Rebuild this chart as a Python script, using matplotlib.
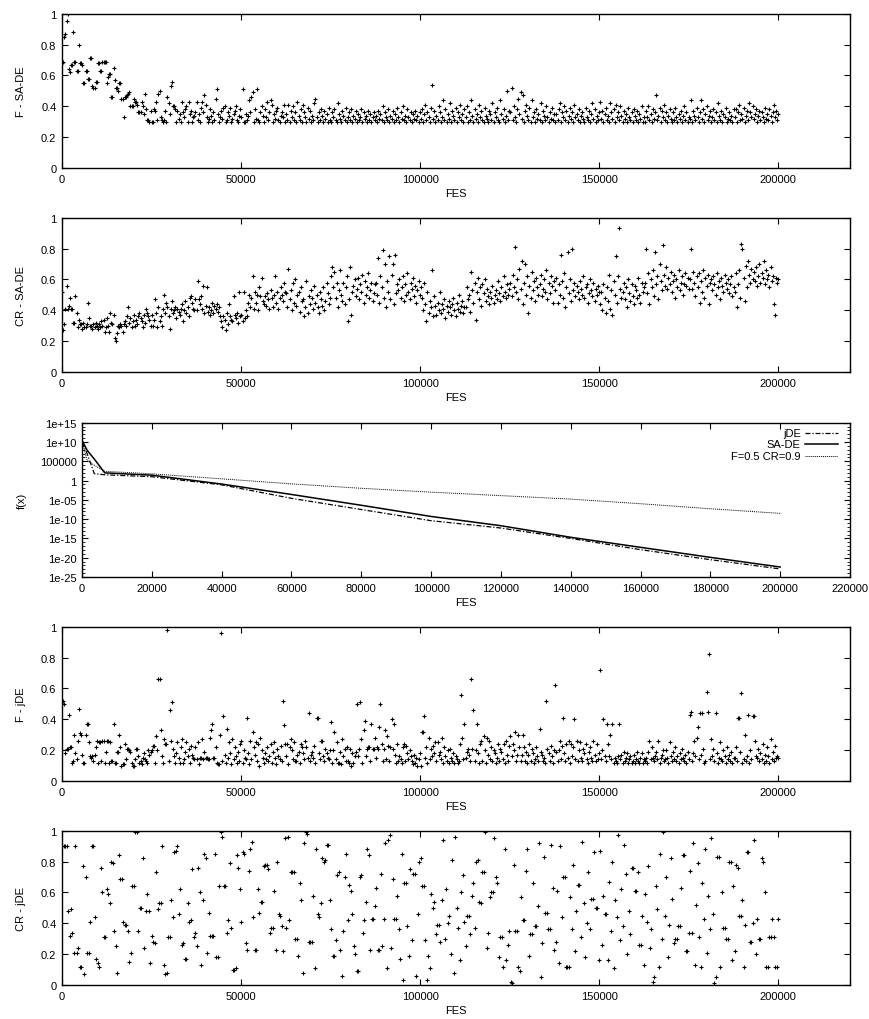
import numpy as np
import matplotlib
matplotlib.use('Agg')
import matplotlib.pyplot as plt
from matplotlib.ticker import NullFormatter

plt.rcParams['font.family'] = ['Liberation Sans', 'DejaVu Sans']
plt.rcParams['font.size'] = 8

# --- data (values in hundredths, 16 rows of 12500 FES each) ---
f_sade = [
    68, 69, 85, 87, 95, 100, 64, 62, 67, 67, 88, 69, 69, 63, 63, 80, 68, 68, 67, 55, 55, 63, 63, 58, 58, 71, 71, 53, 52, 52, 56, 56, 68, 68, 63, 63, 69, 69, 69, 69,
    55, 59, 61, 61, 46, 46, 65, 57, 52, 52, 50, 55, 55, 45, 45, 33, 46, 46, 47, 48, 49, 40, 40, 40, 45, 43, 43, 41, 36, 36, 36, 43, 40, 35, 48, 38, 31, 31, 30, 37,
    30, 30, 38, 37, 43, 31, 48, 50, 33, 31, 30, 31, 37, 30, 46, 42, 35, 53, 56, 40, 40, 38, 30, 37, 32, 35, 30, 43, 36, 33, 38, 40, 30, 43, 35, 37, 30, 33, 34, 36,
    43, 31, 35, 30, 39, 43, 36, 47, 41, 33, 30, 32, 38, 34, 30, 36, 31, 45, 51, 35, 30, 33, 37, 32, 39, 40, 30, 31, 36, 34, 39, 30, 32, 35, 37, 40, 31, 30, 34, 38,
    33, 51, 30, 30, 35, 31, 34, 44, 36, 46, 49, 30, 38, 32, 51, 31, 30, 36, 40, 34, 30, 38, 33, 43, 31, 36, 44, 41, 30, 35, 32, 37, 39, 31, 30, 34, 36, 33, 41, 30,
    35, 31, 41, 30, 37, 33, 40, 31, 36, 30, 43, 34, 31, 38, 30, 41, 36, 33, 30, 39, 32, 37, 30, 34, 31, 42, 45, 33, 30, 36, 31, 38, 34, 30, 37, 32, 35, 30, 39, 31,
    30, 36, 33, 38, 31, 30, 42, 35, 32, 30, 37, 34, 31, 39, 30, 33, 36, 31, 38, 30, 34, 32, 37, 30, 35, 31, 33, 38, 30, 36, 32, 34, 30, 37, 31, 35, 30, 33, 36, 31,
    34, 30, 37, 32, 35, 31, 40, 30, 36, 33, 31, 38, 30, 34, 32, 37, 30, 35, 31, 39, 33, 30, 36, 32, 40, 31, 34, 30, 38, 33, 31, 36, 30, 35, 32, 37, 31, 34, 30, 36,
    32, 38, 30, 35, 41, 31, 36, 33, 30, 39, 54, 32, 37, 30, 34, 31, 40, 36, 30, 33, 44, 31, 38, 30, 35, 32, 42, 30, 37, 34, 31, 39, 30, 36, 33, 41, 31, 35, 30, 38,
    33, 40, 30, 36, 31, 44, 34, 30, 38, 32, 35, 30, 41, 33, 37, 31, 30, 39, 34, 32, 30, 37, 35, 31, 42, 30, 36, 33, 39, 31, 30, 44, 35, 32, 38, 30, 34, 50, 31, 37,
    36, 52, 31, 40, 33, 30, 38, 45, 35, 49, 32, 47, 30, 37, 41, 34, 31, 39, 30, 44, 33, 36, 30, 38, 32, 35, 31, 42, 30, 37, 34, 31, 40, 33, 30, 36, 32, 39, 31, 35,
    30, 35, 31, 38, 42, 30, 36, 33, 40, 31, 37, 30, 34, 39, 32, 36, 30, 41, 33, 35, 31, 38, 30, 34, 36, 32, 30, 39, 33, 31, 37, 30, 35, 42, 32, 38, 30, 34, 31, 36,
    43, 32, 37, 30, 35, 39, 31, 34, 30, 42, 36, 32, 38, 30, 41, 33, 36, 31, 40, 34, 30, 37, 32, 35, 30, 39, 33, 31, 36, 30, 38, 34, 31, 37, 30, 35, 32, 40, 30, 33,
    30, 37, 33, 40, 31, 35, 30, 38, 32, 36, 47, 31, 34, 39, 30, 37, 33, 41, 31, 36, 30, 34, 38, 32, 30, 36, 31, 39, 33, 30, 35, 32, 37, 30, 34, 40, 31, 36, 30, 33,
    32, 44, 30, 37, 34, 31, 39, 33, 30, 36, 44, 32, 38, 30, 35, 40, 31, 34, 37, 30, 33, 38, 31, 36, 30, 42, 34, 31, 37, 30, 35, 33, 39, 30, 32, 36, 31, 34, 30, 38,
    33, 38, 30, 36, 41, 31, 35, 32, 39, 30, 34, 37, 31, 42, 36, 33, 40, 32, 35, 38, 30, 34, 37, 31, 36, 33, 30, 39, 32, 35, 31, 38, 34, 30, 36, 41, 33, 37, 31, 35,
]

cr_sade = [
    52, 27, 31, 41, 56, 41, 43, 48, 41, 41, 32, 32, 49, 38, 29, 34, 31, 31, 28, 32, 29, 29, 31, 45, 35, 30, 30, 28, 31, 29, 32, 30, 28, 31, 29, 33, 30, 34, 26, 29,
    35, 30, 26, 38, 32, 31, 37, 22, 20, 25, 30, 29, 31, 30, 26, 31, 33, 30, 36, 42, 32, 35, 29, 33, 37, 30, 34, 31, 36, 38, 35, 33, 29, 37, 32, 41, 38, 36, 34, 30,
    37, 30, 34, 47, 38, 29, 42, 33, 36, 30, 41, 50, 38, 45, 42, 36, 28, 41, 46, 38, 40, 42, 35, 41, 39, 37, 41, 44, 33, 40, 46, 38, 42, 36, 48, 49, 45, 41, 40, 47,
    40, 59, 47, 44, 49, 41, 56, 38, 43, 55, 39, 42, 37, 40, 45, 38, 43, 41, 44, 39, 42, 36, 33, 29, 36, 34, 27, 38, 31, 44, 36, 34, 33, 49, 37, 35, 38, 32, 52, 36,
    37, 33, 52, 35, 40, 36, 45, 50, 42, 48, 62, 41, 52, 45, 50, 40, 55, 49, 61, 46, 44, 49, 43, 51, 47, 41, 53, 48, 42, 50, 62, 45, 52, 41, 48, 55, 50, 46, 58, 52,
    51, 42, 67, 47, 53, 40, 58, 45, 60, 43, 50, 52, 39, 55, 46, 47, 36, 42, 59, 38, 49, 44, 53, 48, 41, 56, 45, 50, 42, 38, 52, 47, 43, 55, 40, 46, 58, 51, 44, 48,
    62, 68, 55, 65, 48, 58, 42, 53, 66, 50, 46, 58, 44, 55, 62, 33, 47, 68, 37, 52, 56, 60, 49, 54, 61, 47, 57, 52, 63, 45, 59, 50, 55, 64, 48, 53, 58, 46, 51, 57,
    58, 50, 74, 45, 62, 55, 79, 48, 70, 42, 59, 52, 75, 47, 63, 70, 44, 76, 51, 57, 53, 60, 48, 55, 62, 46, 57, 50, 64, 52, 47, 58, 54, 61, 49, 56, 45, 53, 59, 50,
    55, 48, 40, 58, 44, 33, 52, 38, 46, 42, 66, 36, 49, 43, 37, 45, 40, 52, 38, 44, 41, 47, 35, 43, 39, 46, 42, 37, 44, 48, 40, 36, 45, 41, 50, 39, 43, 46, 38, 42,
    42, 55, 47, 50, 39, 65, 53, 45, 58, 34, 52, 61, 47, 55, 43, 57, 51, 60, 46, 54, 49, 44, 52, 48, 56, 45, 50, 53, 47, 59, 51, 46, 55, 49, 62, 52, 48, 57, 50, 54,
    58, 49, 63, 55, 81, 52, 60, 47, 67, 54, 72, 44, 58, 70, 50, 62, 38, 56, 48, 65, 53, 59, 46, 61, 55, 50, 57, 63, 49, 54, 60, 52, 66, 47, 58, 51, 62, 56, 45, 59,
    53, 61, 45, 57, 50, 76, 59, 48, 64, 42, 55, 78, 51, 60, 46, 80, 53, 58, 49, 56, 52, 47, 59, 54, 50, 62, 48, 55, 57, 45, 51, 60, 53, 49, 58, 46, 54, 50, 56, 52,
    44, 52, 40, 57, 48, 38, 55, 46, 63, 41, 53, 37, 59, 50, 75, 45, 62, 93, 54, 48, 52, 58, 47, 55, 42, 60, 51, 46, 57, 49, 44, 56, 53, 48, 61, 50, 45, 58, 52, 55,
    58, 80, 51, 64, 44, 60, 55, 66, 49, 78, 57, 62, 47, 70, 59, 53, 82, 63, 56, 68, 54, 61, 57, 65, 52, 59, 63, 48, 60, 55, 66, 53, 58, 62, 50, 57, 64, 56, 61, 54,
    60, 80, 54, 65, 58, 49, 62, 55, 64, 45, 59, 52, 66, 48, 61, 56, 63, 44, 58, 60, 53, 62, 57, 50, 64, 55, 59, 47, 61, 56, 52, 63, 58, 54, 60, 51, 57, 62, 49, 55,
    52, 64, 42, 57, 66, 48, 83, 80, 61, 46, 69, 55, 72, 63, 58, 67, 60, 65, 59, 68, 56, 62, 70, 58, 64, 61, 72, 57, 66, 60, 63, 55, 68, 59, 62, 44, 37, 61, 58, 60,
]

f_jde = [
    50, 52, 50, 18, 21, 21, 43, 22, 22, 12, 13, 30, 18, 14, 26, 47, 31, 30, 17, 12, 12, 30, 37, 37, 25, 16, 15, 16, 13, 17, 22, 26, 12, 25, 25, 13, 26, 26, 12, 19,
    26, 26, 12, 25, 13, 13, 37, 12, 12, 19, 19, 30, 22, 10, 11, 11, 24, 14, 21, 21, 20, 19, 12, 10, 10, 14, 21, 21, 16, 12, 13, 11, 15, 18, 14, 13, 12, 20, 17, 19,
    20, 23, 23, 12, 29, 20, 66, 66, 33, 16, 12, 27, 24, 24, 98, 13, 46, 26, 51, 21, 16, 12, 18, 25, 15, 12, 22, 27, 12, 14, 19, 25, 16, 21, 12, 23, 17, 15, 14, 22,
    14, 25, 11, 15, 15, 27, 14, 19, 15, 15, 14, 14, 28, 33, 37, 15, 15, 22, 12, 11, 11, 30, 96, 13, 42, 17, 12, 34, 15, 25, 18, 11, 27, 14, 22, 16, 12, 19, 13, 24,
    26, 12, 20, 15, 14, 41, 18, 11, 26, 14, 32, 22, 17, 25, 13, 24, 10, 28, 20, 15, 12, 18, 14, 22, 13, 16, 24, 12, 19, 25, 15, 11, 21, 16, 14, 23, 13, 52, 36, 24,
    16, 24, 11, 22, 27, 20, 14, 25, 13, 13, 17, 19, 12, 24, 22, 18, 14, 26, 22, 15, 44, 13, 17, 19, 15, 23, 12, 41, 41, 18, 14, 26, 26, 16, 13, 21, 18, 15, 14, 20,
    38, 12, 20, 32, 14, 25, 12, 12, 19, 11, 27, 16, 21, 13, 22, 13, 12, 21, 10, 18, 12, 16, 19, 50, 16, 21, 51, 27, 12, 33, 39, 16, 21, 22, 22, 13, 37, 21, 21, 28,
    15, 22, 21, 35, 50, 24, 13, 21, 33, 14, 29, 23, 13, 22, 40, 21, 37, 17, 12, 24, 13, 16, 14, 12, 22, 24, 13, 23, 18, 14, 20, 16, 13, 11, 17, 12, 15, 10, 14, 18,
    10, 32, 32, 42, 15, 22, 12, 28, 14, 21, 16, 23, 18, 25, 13, 25, 17, 19, 14, 28, 12, 22, 16, 13, 20, 12, 21, 15, 13, 18, 12, 16, 14, 12, 13, 24, 56, 28, 14, 37,
    15, 19, 21, 17, 13, 66, 21, 46, 13, 20, 37, 18, 12, 24, 26, 13, 29, 20, 12, 28, 17, 26, 14, 22, 13, 20, 18, 12, 15, 24, 13, 21, 19, 14, 24, 12, 26, 17, 13, 23,
    29, 16, 24, 20, 32, 13, 17, 30, 22, 13, 17, 30, 22, 13, 19, 12, 17, 24, 13, 21, 18, 12, 14, 22, 16, 13, 34, 19, 17, 13, 15, 12, 52, 21, 18, 13, 23, 16, 12, 20,
    62, 19, 13, 20, 26, 14, 23, 41, 18, 13, 24, 15, 26, 12, 24, 16, 22, 40, 14, 26, 13, 20, 25, 15, 13, 21, 18, 24, 14, 12, 19, 22, 15, 13, 26, 17, 13, 24, 14, 18,
    72, 14, 20, 40, 16, 13, 37, 24, 16, 30, 14, 37, 12, 15, 13, 12, 16, 37, 14, 17, 12, 19, 13, 15, 18, 12, 14, 16, 12, 13, 17, 12, 14, 19, 13, 12, 15, 18, 12, 14,
    13, 15, 12, 19, 26, 14, 22, 15, 13, 16, 19, 14, 26, 12, 15, 17, 20, 13, 14, 20, 15, 12, 25, 16, 13, 19, 14, 22, 13, 16, 12, 18, 14, 21, 15, 13, 17, 12, 19, 14,
    43, 45, 13, 18, 26, 16, 28, 35, 14, 44, 17, 44, 21, 12, 13, 58, 45, 82, 14, 27, 16, 21, 13, 44, 18, 12, 15, 25, 14, 13, 20, 16, 12, 22, 14, 17, 13, 19, 12, 15,
    15, 22, 13, 41, 41, 19, 57, 12, 14, 30, 13, 16, 43, 12, 20, 14, 42, 42, 26, 16, 15, 21, 13, 18, 14, 24, 12, 17, 13, 22, 16, 12, 27, 14, 19, 13, 23, 15, 16, 15,
]

cr_jde = [
    90, 90, 90, 90, 48, 32, 49, 34, 21, 90, 21, 24, 12, 12, 77, 7, 70, 21, 21, 41, 90, 90, 44, 17, 14, 12, 76, 60, 31, 31,
    62, 59, 53, 80, 79, 35, 25, 8, 84, 69, 69, 41, 39, 39, 35, 15, 21, 64, 64, 99, 99, 35, 50, 50, 82, 24, 48, 59, 48, 14,
    32, 28, 27, 73, 49, 53, 53, 90, 13, 7, 8, 31, 31, 55, 44, 86, 87, 90, 46, 62, 26, 27, 17, 17, 53, 41, 42, 75, 31, 34,
    25, 76, 60, 13, 55, 85, 82, 21, 47, 32, 32, 32, 85, 18, 18, 64, 99, 96, 64, 64, 34, 42, 79, 37, 10, 10, 11, 84, 76, 62,
    41, 86, 85, 27, 23, 74, 88, 93, 44, 23, 23, 62, 47, 54, 54, 77, 78, 78, 75, 34, 37, 37, 61, 23, 80, 46, 45, 38, 22, 95,
    37, 96, 42, 73, 73, 73, 30, 30, 19, 66, 55, 8, 92, 99, 98, 28, 28, 28, 58, 11, 88, 46, 44, 53, 82, 80, 81, 91, 91, 55,
    36, 19, 19, 29, 71, 73, 23, 6, 35, 70, 85, 42, 65, 61, 46, 25, 20, 9, 9, 70, 71, 34, 42, 54, 88, 84, 23, 43, 43, 51,
    63, 23, 23, 72, 25, 43, 92, 11, 94, 97, 24, 69, 43, 43, 58, 36, 17, 85, 3, 66, 66, 38, 19, 75, 29, 72, 72, 6, 46, 80,
    82, 64, 64, 29, 3, 19, 11, 59, 50, 54, 33, 39, 39, 28, 55, 94, 30, 62, 40, 45, 20, 81, 8, 96, 50, 37, 16, 60, 71, 41,
    25, 45, 45, 33, 58, 66, 37, 80, 81, 54, 53, 73, 73, 99, 24, 34, 57, 60, 60, 95, 70, 66, 18, 31, 31, 12, 88, 16, 26, 35,
    2, 1, 78, 35, 35, 12, 9, 57, 42, 42, 74, 88, 19, 33, 33, 66, 38, 38, 51, 92, 5, 27, 83, 47, 47, 36, 36, 91, 63, 23,
    28, 61, 14, 90, 44, 70, 70, 12, 12, 12, 57, 36, 78, 22, 48, 65, 65, 31, 93, 53, 18, 40, 73, 36, 56, 56, 86, 50, 50, 16,
    87, 26, 58, 46, 46, 16, 67, 35, 80, 11, 55, 44, 97, 29, 62, 38, 91, 72, 20, 48, 33, 76, 76, 61, 61, 73, 26, 26, 45, 13,
    59, 41, 77, 24, 36, 2, 5, 64, 49, 12, 85, 30, 99, 45, 70, 18, 39, 82, 56, 27, 30, 30, 38, 38, 63, 84, 84, 22, 22, 34,
    74, 34, 92, 13, 52, 79, 31, 12, 66, 43, 88, 21, 58, 36, 95, 46, 1, 5, 83, 83, 12, 60, 37, 37, 30, 30, 80, 80, 16, 64,
    22, 78, 76, 45, 45, 55, 12, 39, 86, 86, 28, 28, 40, 94, 20, 43, 30, 30, 82, 80, 60, 12, 12, 31, 31, 43, 31, 12, 12, 43,
]

# convergence curves, log10 of f(x)
fes_curve = [0, 1500, 3500, 6500, 20000, 40000, 60000, 80000, 100000,
             120000, 140000, 160000, 180000, 200000]
log_jde = [10.0, 6.9, 1.8, 1.5, 1.0, -1.1, -4.6, -7.5, -10.4,
           -12.3, -15.0, -17.9, -20.5, -22.9]
log_sade = [10.4, 7.8, 5.6, 2.0, 1.4, -0.9, -3.6, -6.4, -9.3,
            -11.7, -14.7, -17.3, -19.9, -22.4]
log_fix = [10.0, 5.2, 4.0, 2.4, 1.75, 0.45, -0.85, -2.0, -3.0,
           -3.9, -4.8, -6.0, -7.3, -8.5]

log_ticks = [15, 10, 5, 0, -5, -10, -15, -20, -25]
log_tick_labels = ['1e+15', '1e+10', '100000', '1', '1e-05', '1e-10', '1e-15', '1e-20', '1e-25']


def style_axes(ax):
    for s in ax.spines.values():
        s.set_linewidth(1.0)
    ax.tick_params(direction='in', top=True, right=True, length=4, width=0.8, pad=4)
    ax.set_xlabel('FES', labelpad=3)


def scatter_panel(ax, values, ylabel):
    x = np.linspace(0, 200000, len(values))
    ax.plot(x, np.array(values) / 100.0, '+', color='black', markersize=3,
            markeredgewidth=0.8)
    ax.set_xlim(0, 220000)
    ax.set_ylim(0, 1)
    ax.set_xticks([0, 50000, 100000, 150000, 200000, 220000])
    ax.set_xticklabels(['0', '50000', '100000', '150000', '200000', ''])
    ax.set_yticks([0, 0.2, 0.4, 0.6, 0.8, 1])
    ax.set_yticklabels(['0', '0.2', '0.4', '0.6', '0.8', '1'])
    ax.set_ylabel(ylabel, labelpad=11)
    style_axes(ax)


fig = plt.figure(figsize=(8.7, 10.2), dpi=100)

ax1 = fig.add_axes([0.0713, 0.8343, 0.9057, 0.1513])
scatter_panel(ax1, f_sade, 'F - SA-DE')

ax2 = fig.add_axes([0.0713, 0.6343, 0.9057, 0.1513])
scatter_panel(ax2, cr_sade, 'CR - SA-DE')

ax3 = fig.add_axes([0.0943, 0.4333, 0.8827, 0.1513])
styles = [('jDE', log_jde, 0.9, (0, (4, 1.5, 1, 1.5))),
          ('SA-DE', log_sade, 1.1, '-'),
          ('F=0.5 CR=0.9', log_fix, 0.7, (0, (1, 1)))]
for i, (name, vals, lw, ls) in enumerate(styles):
    ax3.plot(fes_curve, 10.0 ** np.array(vals), color='black', lw=lw, linestyle=ls)
    # gnuplot style key: text right-aligned, sample on its right
    ky = 0.935 - i * 0.075
    ax3.text(0.936, ky, name, transform=ax3.transAxes, ha='right', va='center')
    ax3.plot([0.942, 0.984], [ky, ky], transform=ax3.transAxes, color='black',
             lw=lw, linestyle=ls)
ax3.set_yscale('log')
ax3.set_xlim(0, 220000)
ax3.set_ylim(1e-25, 1e15)
ax3.set_xticks(range(0, 220001, 20000))
ax3.set_yticks([10.0 ** t for t in log_ticks])
ax3.set_yticklabels(log_tick_labels)
ax3.set_yticks([10.0 ** t for t in range(-25, 16)], minor=True)
ax3.yaxis.set_minor_formatter(NullFormatter())
ax3.tick_params(which='minor', axis='y', direction='in', left=True, right=True,
                length=2, width=0.6)
ax3.set_ylabel('f(x)', labelpad=9)
style_axes(ax3)

ax4 = fig.add_axes([0.0713, 0.2333, 0.9057, 0.1513])
scatter_panel(ax4, f_jde, 'F - jDE')

ax5 = fig.add_axes([0.0713, 0.0333, 0.9057, 0.1513])
scatter_panel(ax5, cr_jde, 'CR - jDE')

fig.savefig('out.png', dpi=100)
